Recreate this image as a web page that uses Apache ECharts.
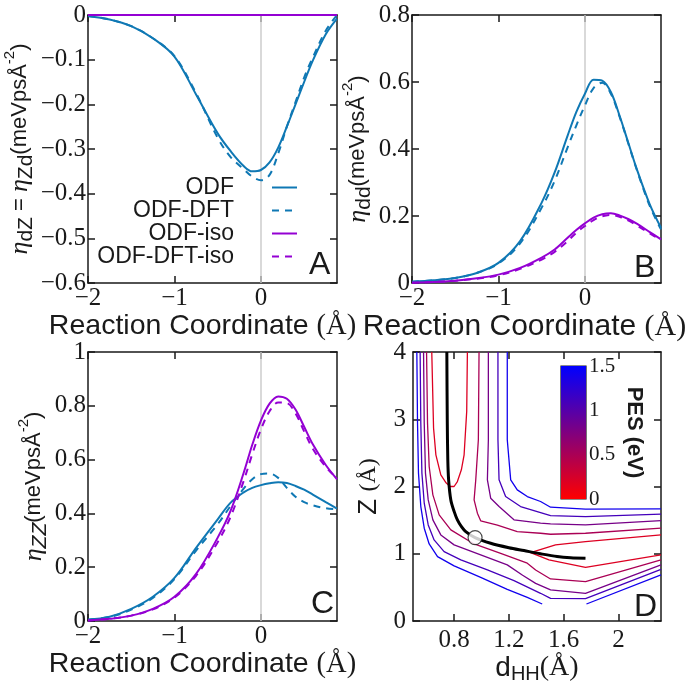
<!DOCTYPE html>
<html>
<head>
<meta charset="utf-8">
<title>Friction tensor along the reaction coordinate</title>
<script src="https://cdn.jsdelivr.net/npm/echarts@6/dist/echarts.min.js"></script>
<style>
  html, body { margin: 0; padding: 0; background: #fff; }
  #chart { width: 693px; height: 686px; }
</style>
</head>
<body>
<div id="chart"></div>
<script>
// reaction coordinate (Å), shared by panels A-C
const rc = [-2.0, -1.75, -1.5, -1.25, -1.0, -0.75, -0.5, -0.35, -0.2, -0.1, 0.0, 0.1, 0.2, 0.3, 0.4, 0.5, 0.6, 0.75, 0.88]

// panel A : eta_dZ = eta_Zd
const dzODF = [-0.002, -0.010, -0.025, -0.052, -0.093, -0.178, -0.265, -0.305, -0.338, -0.350, -0.347, -0.330, -0.297, -0.250, -0.200, -0.150, -0.102, -0.043, -0.008]
const dzODFDFT = [-0.002, -0.010, -0.025, -0.052, -0.092, -0.175, -0.275, -0.318, -0.345, -0.362, -0.370, -0.358, -0.310, -0.250, -0.195, -0.140, -0.095, -0.035, 0.0]
const dzIso = [0, 0, 0, 0, 0, 0, 0, 0, 0, 0, 0, 0, 0, 0, 0, 0, 0, 0, 0]
const dzDFTIso = [0, 0, 0, 0, 0, 0, 0, 0, 0, 0, 0, 0, 0, 0, 0, 0, 0, 0, 0]

// panel B : eta_dd
const ddODF = [0.004, 0.008, 0.015, 0.030, 0.060, 0.125, 0.240, 0.330, 0.440, 0.510, 0.565, 0.607, 0.604, 0.570, 0.500, 0.420, 0.340, 0.235, 0.165]
const ddODFDFT = [0.004, 0.008, 0.015, 0.030, 0.058, 0.118, 0.225, 0.305, 0.405, 0.470, 0.530, 0.582, 0.598, 0.565, 0.497, 0.418, 0.338, 0.230, 0.160]
const ddIso = [0.001, 0.003, 0.007, 0.014, 0.025, 0.045, 0.076, 0.100, 0.135, 0.158, 0.178, 0.195, 0.205, 0.208, 0.202, 0.191, 0.177, 0.152, 0.130]
const ddDFTIso = [0.001, 0.003, 0.007, 0.013, 0.023, 0.042, 0.070, 0.093, 0.125, 0.150, 0.170, 0.188, 0.199, 0.203, 0.198, 0.187, 0.172, 0.148, 0.128]

// panel C : eta_ZZ
const zzODF = [0.005, 0.016, 0.045, 0.090, 0.160, 0.272, 0.378, 0.440, 0.478, 0.495, 0.505, 0.512, 0.516, 0.513, 0.502, 0.488, 0.470, 0.442, 0.418]
const zzODFDFT = [0.005, 0.015, 0.042, 0.086, 0.156, 0.262, 0.360, 0.428, 0.492, 0.527, 0.546, 0.548, 0.532, 0.495, 0.462, 0.442, 0.430, 0.419, 0.415]
const zzIso = [0.002, 0.008, 0.020, 0.045, 0.090, 0.175, 0.310, 0.410, 0.550, 0.655, 0.745, 0.808, 0.835, 0.826, 0.786, 0.722, 0.657, 0.580, 0.527]
const zzDFTIso = [0.002, 0.008, 0.020, 0.043, 0.087, 0.168, 0.293, 0.388, 0.520, 0.620, 0.712, 0.780, 0.812, 0.810, 0.772, 0.705, 0.640, 0.573, 0.530]

// panel D : PES contours, [d_HH, Z]
const pesLevels = [0.2, 0.5, 0.8, 1.1, 1.4]
const pesU1 = [[0.637, 4.0], [0.650, 2.869], [0.667, 2.471], [0.703, 2.174], [0.739, 2.060], [0.771, 2.0], [0.800, 2.0], [0.824, 2.074], [0.853, 2.248], [0.873, 2.471], [0.892, 3.117], [0.897, 4.0]]
const pesWell1 = [[2.31, 1.28], [1.759, 1.181], [1.54, 1.131], [1.358, 1.017], [1.492, 0.908], [1.759, 0.799], [2.31, 0.983]]
const pesUpper2 = [[0.982, 4.0], [0.977, 2.695], [0.958, 2.099], [0.946, 1.801], [0.970, 1.603], [0.994, 1.489], [1.116, 1.424], [1.261, 1.330], [1.431, 1.305], [1.504, 1.290], [1.759, 1.305], [2.31, 1.38]]
const pesUpper3 = [[1.05, 4.0], [1.05, 2.695], [1.043, 2.099], [1.067, 1.826], [1.128, 1.702], [1.237, 1.504], [1.431, 1.454], [1.504, 1.444], [1.759, 1.429], [2.31, 1.494]]
const pesUpper4 = [[1.12, 4.0], [1.12, 2.695], [1.128, 2.099], [1.176, 1.851], [1.285, 1.702], [1.431, 1.613], [1.504, 1.568], [1.759, 1.553], [2.31, 1.588]]
const pesUpper5 = [[1.188, 4.0], [1.188, 2.695], [1.213, 2.099], [1.261, 1.95], [1.334, 1.851], [1.431, 1.777], [1.504, 1.692], [1.759, 1.663], [2.31, 1.668]]
const pesLower2 = [[0.599, 4.0], [0.606, 2.943], [0.618, 2.298], [0.645, 1.876], [0.691, 1.578], [0.776, 1.355], [0.946, 1.146], [1.14, 1.007], [1.334, 0.859], [1.395, 0.759], [1.504, 0.625], [1.759, 0.586], [2.31, 0.908]]
const pesLower3 = [[0.577, 4.0], [0.582, 2.943], [0.591, 2.199], [0.611, 1.801], [0.645, 1.504], [0.703, 1.28], [0.8, 1.132], [0.994, 0.983], [1.188, 0.834], [1.30, 0.68], [1.395, 0.56], [1.504, 0.462], [1.759, 0.412], [2.31, 0.834]]
const pesLower4 = [[0.552, 4.0], [0.557, 2.943], [0.565, 2.199], [0.582, 1.752], [0.611, 1.429], [0.654, 1.206], [0.727, 1.032], [0.849, 0.908], [1.043, 0.759], [1.237, 0.6], [1.431, 0.412], [1.504, 0.337], [1.759, 0.333], [2.31, 0.769]]
const pesLower5a = [[0.528, 4.0], [0.533, 2.943], [0.540, 2.199], [0.557, 1.702], [0.582, 1.38], [0.618, 1.146], [0.679, 0.958], [0.8, 0.819], [0.994, 0.65], [1.188, 0.471], [1.334, 0.352], [1.443, 0.253]]
const pesLower5b = [[1.766, 0.253], [2.31, 0.685]]
const mep = [[0.747, 4.0], [0.750, 3.0], [0.754, 2.4], [0.760, 2.1], [0.776, 1.80], [0.800, 1.63], [0.824, 1.504], [0.855, 1.40], [0.885, 1.33], [0.953, 1.24], [1.067, 1.156], [1.20, 1.09], [1.31, 1.047], [1.43, 1.0], [1.552, 0.958], [1.65, 0.94], [1.759, 0.933]]
const tsPoint = [[0.953, 1.24]]
const pesMax = 1.5

// tick labels
const rcTicks = [-2, -1, 0]
const dzTicks = [-0.6, -0.5, -0.4, -0.3, -0.2, -0.1, 0]
const ddTicks = [0, 0.2, 0.4, 0.6, 0.8]
const zzTicks = [0, 0.2, 0.4, 0.6, 0.8, 1]
const dhhTicks = [0.8, 1.2, 1.6, 2]
const zTicks = [0, 1, 2, 3, 4]
const pesTicks = [0, 0.5, 1, 1.5]

const SANS = 'Liberation Sans'
const SERIF = 'Liberation Serif'
const BLUE = '#0f78b4'
const PURPLE = '#9400d3'
const INK = '#1a1a1a'

function pair(ys) { return rc.map((x, i) => [x, ys[i]]) }
function minus(v) { return String(v).replace('-', '\u2212') }
function pesColor(v) {
    const t = v / pesMax
    return 'rgb(' + Math.round(255 * (1 - t)) + ',0,' + Math.round(255 * t) + ')'
}

const axLine = { onZero: false, lineStyle: { color: INK, width: 1.5 } }
function axTick(ticks) {
    return { inside: true, length: 7, customValues: ticks, lineStyle: { color: INK, width: 1.5 } }
}
function axLabel(ticks, margin) {
    return { customValues: ticks, formatter: minus, fontFamily: SERIF, fontSize: 25, color: INK, margin: margin }
}

// x axis pair (bottom with labels, top mirror) for one grid
function xPair(grid, min, max, ticks, margin, name, gap, style) {
    return [
        { type: 'value', gridIndex: grid, position: 'bottom', min: min, max: max,
          axisLine: axLine, axisTick: axTick(ticks), axisLabel: axLabel(ticks, margin),
          splitLine: { show: false },
          name: name, nameLocation: 'middle', nameGap: gap, nameTextStyle: style },
        { type: 'value', gridIndex: grid, position: 'top', min: min, max: max,
          axisLine: axLine, axisTick: axTick(ticks), axisLabel: { show: false },
          splitLine: { show: false } }
    ]
}
function yPair(grid, min, max, ticks, margin, name, gap, style) {
    return [
        { type: 'value', gridIndex: grid, position: 'left', min: min, max: max,
          axisLine: axLine, axisTick: axTick(ticks), axisLabel: axLabel(ticks, margin),
          splitLine: { show: false },
          name: name, nameLocation: 'middle', nameRotate: 90, nameGap: gap, nameTextStyle: style },
        { type: 'value', gridIndex: grid, position: 'right', min: min, max: max,
          axisLine: axLine, axisTick: axTick(ticks), axisLabel: { show: false },
          splitLine: { show: false } }
    ]
}

const rcName = '{s|Reaction Coordinate }{r|(Å)}'
function rcStyle(size, shift) {
    return {
        padding: [0, shift, 0, 0],
        rich: {
            s: { fontFamily: SANS, fontSize: size, lineHeight: 34, color: INK },
            r: { fontFamily: SERIF, fontSize: size, lineHeight: 34, color: INK }
        }
    }
}
const etaRich = {
    eta: { fontFamily: SERIF, fontStyle: 'italic', fontSize: 26, lineHeight: 34, color: INK },
    t: { fontFamily: SANS, fontSize: 22, lineHeight: 34, color: INK },
    sub: { fontFamily: SANS, fontSize: 21, lineHeight: 24, verticalAlign: 'bottom', color: INK },
    subi: { fontFamily: SANS, fontStyle: 'italic', fontSize: 21, lineHeight: 24, verticalAlign: 'bottom', color: INK },
    sup: { fontFamily: SANS, fontSize: 15, lineHeight: 18, verticalAlign: 'top', color: INK }
}

// curves of one panel
function panelSeries(axis, odf, odfDft, iso, dftIso) {
    const base = { type: 'line', xAxisIndex: axis, yAxisIndex: axis, smooth: 0.35, showSymbol: false, symbol: 'none' }
    return [
        Object.assign({}, base, { name: 'ODF', color: BLUE, data: pair(odf),
            lineStyle: { width: 2 },
            markLine: { silent: true, z: 1, symbol: 'none', label: { show: false },
                lineStyle: { color: '#cdcdcd', width: 1.5, type: 'solid' }, data: [{ xAxis: 0 }] } }),
        Object.assign({}, base, { name: 'ODF-DFT', color: BLUE, data: pair(odfDft),
            lineStyle: { width: 2, type: [7, 6] } }),
        Object.assign({}, base, { name: 'ODF-iso', color: PURPLE, data: pair(iso),
            lineStyle: { width: 2 } }),
        Object.assign({}, base, { name: 'ODF-DFT-iso', color: PURPLE, data: pair(dftIso),
            lineStyle: { width: 2, type: [7, 6] } })
    ]
}

function contour(points, level) {
    return { type: 'line', xAxisIndex: 6, yAxisIndex: 6, data: points, showSymbol: false, symbol: 'none',
             silent: true, color: pesColor(level), lineStyle: { width: 1.3 } }
}

const letter = (t, left, top) => ({
    text: t, left: left, top: top, padding: 0,
    textStyle: { fontFamily: SANS, fontSize: 32, fontWeight: 'normal', color: INK }
})

var chart = echarts.init(document.getElementById('chart'))
option = {
    animation: false,
    backgroundColor: '#fff',
    title: [letter('A', 309, 249), letter('B', 634, 252), letter('C', 311, 588), letter('D', 634, 591)],
    legend: {
        data: ['ODF', 'ODF-DFT', 'ODF-iso', 'ODF-DFT-iso'],
        orient: 'vertical', align: 'right', right: 395, top: 176, padding: 0,
        itemWidth: 25, itemHeight: 14, itemGap: 0, selectedMode: false,
        itemStyle: { opacity: 0 },
        textStyle: { fontFamily: SANS, fontSize: 23, color: INK, lineHeight: 23, padding: [0, 33, 0, 0] }
    },
    grid: [
        { left: 88, top: 15, width: 249, height: 268 },
        { left: 412, top: 15, width: 249, height: 268 },
        { left: 88, top: 352, width: 249, height: 269 },
        { left: 413, top: 352, width: 248, height: 269 },
        { left: 561, top: 366, width: 25, height: 133, show: true, borderColor: INK, borderWidth: 1.2, backgroundColor: 'transparent' }
    ],
    xAxis: [].concat(
        xPair(0, -2, 0.88, rcTicks, 3, rcName, 21, rcStyle(28.5, 20)),
        xPair(1, -2, 0.88, rcTicks, 3, rcName, 21, rcStyle(30, 24)),
        xPair(2, -2, 0.88, rcTicks, 3, rcName, 22, rcStyle(28.5, 20)),
        xPair(3, 0.5, 2.31, dhhTicks, 7, '{s|d}{sub|HH}{r|(Å)}', 28, {
            rich: {
                s: { fontFamily: SANS, fontSize: 28, lineHeight: 34, color: INK },
                sub: { fontFamily: SANS, fontSize: 20, lineHeight: 22, verticalAlign: 'bottom', color: INK },
                r: { fontFamily: SERIF, fontSize: 28, lineHeight: 34, color: INK }
            }
        }),
        [{ type: 'category', gridIndex: 4, data: ['PES'], show: false }]
    ),
    yAxis: [].concat(
        yPair(0, -0.6, 0, dzTicks, 2, '{eta|η}{sub|dZ}{t| = }{eta|η}{sub|Zd}{t|(meVpsÅ}{sup|-2}{t|)}', 33, { rich: etaRich }),
        yPair(1, 0, 0.8, ddTicks, 2, '{eta|η}{sub|dd}{t|(meVpsÅ}{sup|-2}{t|)}', 35, { rich: etaRich }),
        yPair(2, 0, 1, zzTicks, 2, '{eta|η}{subi|ZZ}{t|(meVpsÅ}{sup|-2}{t|)}', 32, { rich: etaRich }),
        yPair(3, 0, 4, zTicks, 7, '{s|Z }{r|(Å)}', 29, {
            rich: {
                s: { fontFamily: SANS, fontSize: 26, lineHeight: 30, color: INK },
                r: { fontFamily: SERIF, fontSize: 24, lineHeight: 30, color: INK }
            }
        }),
        [
            { type: 'value', gridIndex: 4, position: 'right', min: 0, max: pesMax,
              axisLine: { show: false },
              axisTick: { inside: true, length: 6, customValues: pesTicks, lineStyle: { color: INK, width: 1.2 } },
              axisLabel: { customValues: pesTicks, fontFamily: SERIF, fontSize: 21, color: INK, margin: 3 },
              splitLine: { show: false },
              name: 'PES (eV)', nameLocation: 'middle', nameRotate: -90, nameGap: 37,
              nameTextStyle: { fontFamily: SANS, fontSize: 22, fontWeight: 'bold', color: INK } },
            { type: 'value', gridIndex: 4, position: 'left', min: 0, max: pesMax,
              axisLine: { show: false },
              axisTick: { inside: true, length: 6, customValues: pesTicks, lineStyle: { color: INK, width: 1.2 } },
              axisLabel: { show: false }, splitLine: { show: false } }
        ]
    ),
    series: [].concat(
        panelSeries(0, dzODF, dzODFDFT, dzIso, dzDFTIso),
        panelSeries(2, ddODF, ddODFDFT, ddIso, ddDFTIso),
        panelSeries(4, zzODF, zzODFDFT, zzIso, zzDFTIso),
        [
            contour(pesU1, pesLevels[0]),
            contour(pesWell1, pesLevels[0]),
            contour(pesUpper2, pesLevels[1]),
            contour(pesUpper3, pesLevels[2]),
            contour(pesUpper4, pesLevels[3]),
            contour(pesUpper5, pesLevels[4]),
            contour(pesLower2, pesLevels[1]),
            contour(pesLower3, pesLevels[2]),
            contour(pesLower4, pesLevels[3]),
            contour(pesLower5a, pesLevels[4]),
            contour(pesLower5b, pesLevels[4]),
            { type: 'line', xAxisIndex: 6, yAxisIndex: 6, data: mep, smooth: 0.3, showSymbol: false, symbol: 'none',
              silent: true, color: '#000', lineStyle: { width: 3 }, z: 4 },
            { type: 'scatter', xAxisIndex: 6, yAxisIndex: 6, data: tsPoint, symbolSize: 14, silent: true, z: 5,
              itemStyle: { color: '#fff', borderColor: INK, borderWidth: 1.2 } },
            { type: 'bar', xAxisIndex: 8, yAxisIndex: 8, data: [pesMax], barWidth: '100%', silent: true,
              itemStyle: { color: { type: 'linear', x: 0, y: 1, x2: 0, y2: 0,
                  colorStops: [{ offset: 0, color: '#ff0000' }, { offset: 1, color: '#0000ff' }] } } }
        ]
    )
}
chart.setOption(option)
</script>
</body>
</html>
